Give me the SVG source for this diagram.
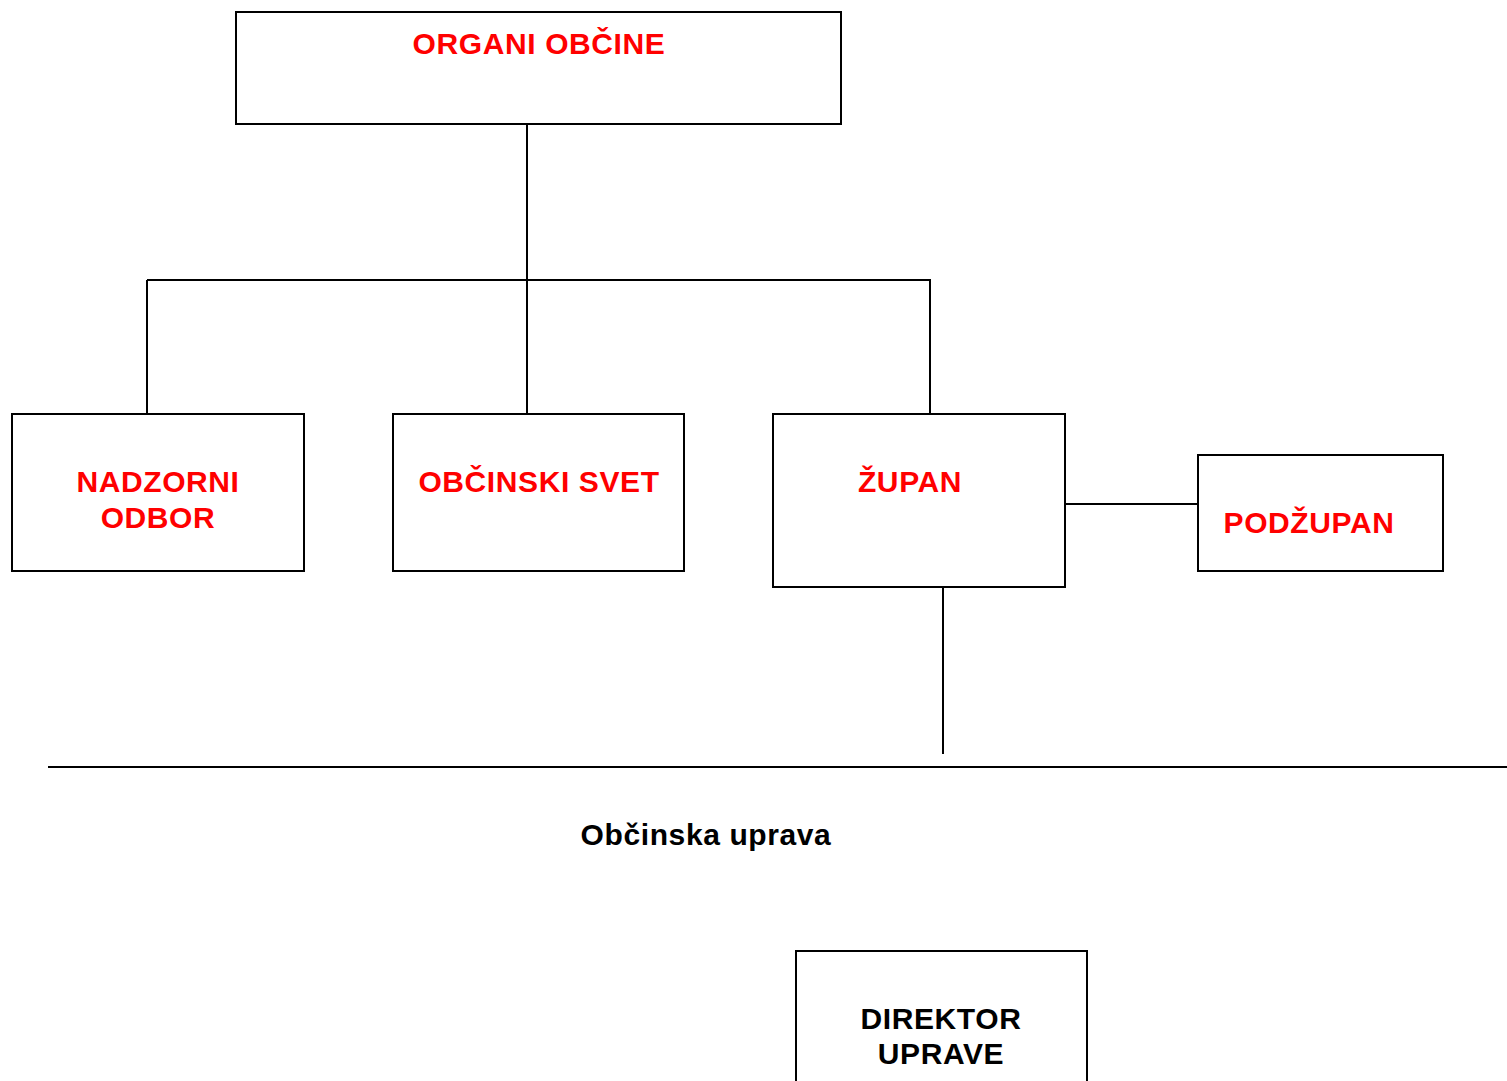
<svg xmlns="http://www.w3.org/2000/svg" width="1507" height="1081" viewBox="0 0 1507 1081">
<style>
.box{fill:#fff;stroke:#000;stroke-width:2}
.ln{stroke:#000;stroke-width:2;fill:none}
.t{font-family:"Liberation Sans",Arial,sans-serif;font-weight:bold;font-size:30px;letter-spacing:0.6px;text-anchor:middle;fill:#f00}
.k{fill:#000}
</style>
<rect width="1507" height="1081" fill="#fff"/>
<g id="connectors">
<line class="ln" x1="527" y1="124" x2="527" y2="414"/>
<line class="ln" x1="147" y1="280" x2="931" y2="280"/>
<line class="ln" x1="147" y1="280" x2="147" y2="414"/>
<line class="ln" x1="930" y1="280" x2="930" y2="414"/>
<line class="ln" x1="1065" y1="504" x2="1198" y2="504"/>
<line class="ln" x1="943" y1="587" x2="943" y2="754"/>
<line class="ln" x1="48" y1="767" x2="1507" y2="767"/>
</g>
<g id="organi">
<rect class="box" x="236" y="12" width="605" height="112"/>
<text class="t" x="539" y="54">ORGANI OBČINE</text>
</g>
<g id="nadzorni">
<rect class="box" x="12" y="414" width="292" height="157"/>
<text class="t" x="158" y="492">NADZORNI</text>
<text class="t" x="158" y="528">ODBOR</text>
</g>
<g id="svet">
<rect class="box" x="393" y="414" width="291" height="157"/>
<text class="t" x="539" y="492">OBČINSKI SVET</text>
</g>
<g id="zupan">
<rect class="box" x="773" y="414" width="292" height="173"/>
<text class="t" x="910" y="492">ŽUPAN</text>
</g>
<g id="podzupan">
<rect class="box" x="1198" y="455" width="245" height="116"/>
<text class="t" x="1309" y="533">PODŽUPAN</text>
</g>
<g id="uprava">
<text class="t k" x="706" y="845">Občinska uprava</text>
</g>
<g id="direktor">
<rect class="box" x="796" y="951" width="291" height="140"/>
<text class="t k" x="941" y="1029">DIREKTOR</text>
<text class="t k" x="941" y="1064">UPRAVE</text>
</g>
</svg>
